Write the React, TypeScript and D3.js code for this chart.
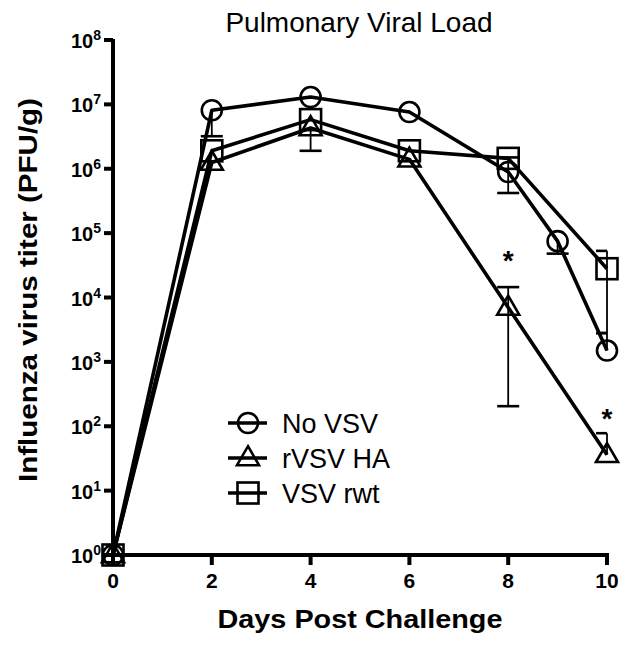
import React from "react";
import * as d3 from "d3";

const days = [0, 2, 4, 6, 8, 9, 10];
const seriesNames = ["No VSV", "rVSV HA", "VSV rwt"];
const noVsv = [1, 8.1e6, 1.3e7, 7.6e6, 8.9e5, 7.5e4, 1.5e3];
const noVsvLo = [1, 3.2e6, 1.3e7, 7.6e6, 4.2e5, 4.8e4, 1.5e3];
const noVsvHi = [1, 8.1e6, 1.3e7, 7.6e6, 1.5e6, 7.5e4, 2.8e3];
const rvsvDays = [0, 2, 4, 6, 8, 10];
const rvsv = [1, 1.25e6, 4.3e6, 1.4e6, 7e3, 36];
const rvsvLo = [1, 1.25e6, 1.9e6, 1.4e6, 205, 36];
const rvsvHi = [1, 1.25e6, 4.3e6, 1.4e6, 1.45e4, 78];
const rwtDays = [0, 2, 4, 6, 8, 10];
const rwt = [1, 1.9e6, 5.8e6, 1.9e6, 1.45e6, 2.8e4];
const rwtLo = [1, 1.9e6, 5.8e6, 1.9e6, 1.45e6, 2.8e3];
const rwtHi = [1, 1.9e6, 5.8e6, 1.9e6, 1.45e6, 5.3e4];
const xTicks = [0, 2, 4, 6, 8, 10];
const yExps = [0, 1, 2, 3, 4, 5, 6, 7, 8];
const stars = [
  { day: 8, value: 4.6e4 },
  { day: 10, value: 160 },
];

const FONT = "'Liberation Sans', Arial, Helvetica, sans-serif";

export default function App() {
  const W = 634, H = 648;
  const x = d3.scaleLinear().domain([0, 10]).range([113, 607]);
  const y = d3.scaleLog().domain([1, 1e8]).range([555, 40]);
  const line = d3.line<[number, number]>().x(d => x(d[0])).y(d => y(d[1]));

  const series = [
    { name: seriesNames[0], d: days, v: noVsv, lo: noVsvLo, hi: noVsvHi, shape: "circle" },
    { name: seriesNames[1], d: rvsvDays, v: rvsv, lo: rvsvLo, hi: rvsvHi, shape: "triangle" },
    { name: seriesNames[2], d: rwtDays, v: rwt, lo: rwtLo, hi: rwtHi, shape: "square" },
  ];

  const marker = (shape: string, cx: number, cy: number, key: string) => {
    const common = { fill: "none", stroke: "#000", strokeWidth: 2.6 };
    if (shape === "circle") return <circle key={key} cx={cx} cy={cy} r={10} {...common} />;
    if (shape === "square") return <rect key={key} x={cx - 10.5} y={cy - 10.5} width={21} height={21} {...common} />;
    const h = 19, w = 22;
    return <path key={key} d={`M${cx},${cy - h * 0.62} L${cx + w / 2},${cy + h * 0.38} L${cx - w / 2},${cy + h * 0.38} Z`} {...common} />;
  };

  const errBars = (s: any, si: number) =>
    s.d.map((dd: number, i: number) => {
      const out: any[] = [];
      const cx = x(dd);
      const cap = (yy: number, k: string) => {
        const halfR = dd === 10 ? 0 : 11;
        out.push(<line key={k} x1={cx - 11} x2={cx + halfR} y1={yy} y2={yy} stroke="#000" strokeWidth={2.6} />);
      };
      if (s.hi[i] > s.v[i]) {
        out.push(<line key={`h${si}${i}`} x1={cx} x2={cx} y1={y(s.v[i])} y2={y(s.hi[i])} stroke="#000" strokeWidth={1.8} />);
        cap(y(s.hi[i]), `hc${si}${i}`);
      }
      if (s.lo[i] < s.v[i]) {
        out.push(<line key={`l${si}${i}`} x1={cx} x2={cx} y1={y(s.v[i])} y2={y(s.lo[i])} stroke="#000" strokeWidth={1.8} />);
        cap(y(s.lo[i]), `lc${si}${i}`);
      }
      return out;
    });

  const legendY = [423, 458, 493];

  return (
    <svg width={W} height={H} style={{ position: "absolute", left: 0, top: 0, background: "#fff" }} fontFamily={FONT}>
      <rect width={W} height={H} fill="#fff" />
      <text x={359} y={32} textAnchor="middle" fontSize={28}>Pulmonary Viral Load</text>

      {series.map((s, si) => errBars(s, si))}
      {series.map((s, si) => (
        <path key={`ln${si}`} d={line(s.d.map((dd: number, i: number) => [dd, s.v[i]]) as any) as string} fill="none" stroke="#000" strokeWidth={3.6} strokeLinejoin="round" />
      ))}
      {series.map((s, si) => s.d.map((dd: number, i: number) => marker(s.shape, x(dd), y(s.v[i]), `m${si}${i}`)))}

      {stars.map((st, i) => (
        <text key={`st${i}`} x={x(st.day)} y={y(st.value) + 15} textAnchor="middle" fontSize={28} fontWeight="bold">*</text>
      ))}

      {/* axes */}
      <line x1={x(0)} x2={x(0)} y1={y(1e8) - 1} y2={y(1) + 2} stroke="#000" strokeWidth={4} />
      <line x1={x(0) - 2} x2={x(10) + 2} y1={y(1)} y2={y(1)} stroke="#000" strokeWidth={4} />
      {yExps.map(e => (
        <g key={`yt${e}`}>
          <line x1={x(0) - 9} x2={x(0)} y1={y(Math.pow(10, e))} y2={y(Math.pow(10, e))} stroke="#000" strokeWidth={4} />
          <text x={x(0) - 12} y={y(Math.pow(10, e)) + 8} textAnchor="end" fontSize={20} fontWeight="bold">
            10<tspan dy={-8} fontSize={14}>{e}</tspan>
          </text>
        </g>
      ))}
      {xTicks.map(t => (
        <g key={`xt${t}`}>
          <line x1={x(t)} x2={x(t)} y1={y(1)} y2={y(1) + 10} stroke="#000" strokeWidth={4} />
          <text x={x(t)} y={588} textAnchor="middle" fontSize={21} fontWeight="bold">{t}</text>
        </g>
      ))}
      <text x={360} y={628} textAnchor="middle" fontSize={26} fontWeight="bold" textLength={285} lengthAdjust="spacingAndGlyphs">Days Post Challenge</text>
      <text transform="translate(37,290) rotate(-90)" textAnchor="middle" fontSize={26} fontWeight="bold" textLength={384} lengthAdjust="spacingAndGlyphs">Influenza virus titer (PFU/g)</text>

      {series.map((s, si) => (
        <g key={`lg${si}`}>
          <line x1={228} x2={267} y1={legendY[si]} y2={legendY[si]} stroke="#000" strokeWidth={3.6} />
          {marker(s.shape, 248, legendY[si], `lgm${si}`)}
          <text x={282} y={legendY[si] + 10} fontSize={27}>{s.name}</text>
        </g>
      ))}
    </svg>
  );
}
